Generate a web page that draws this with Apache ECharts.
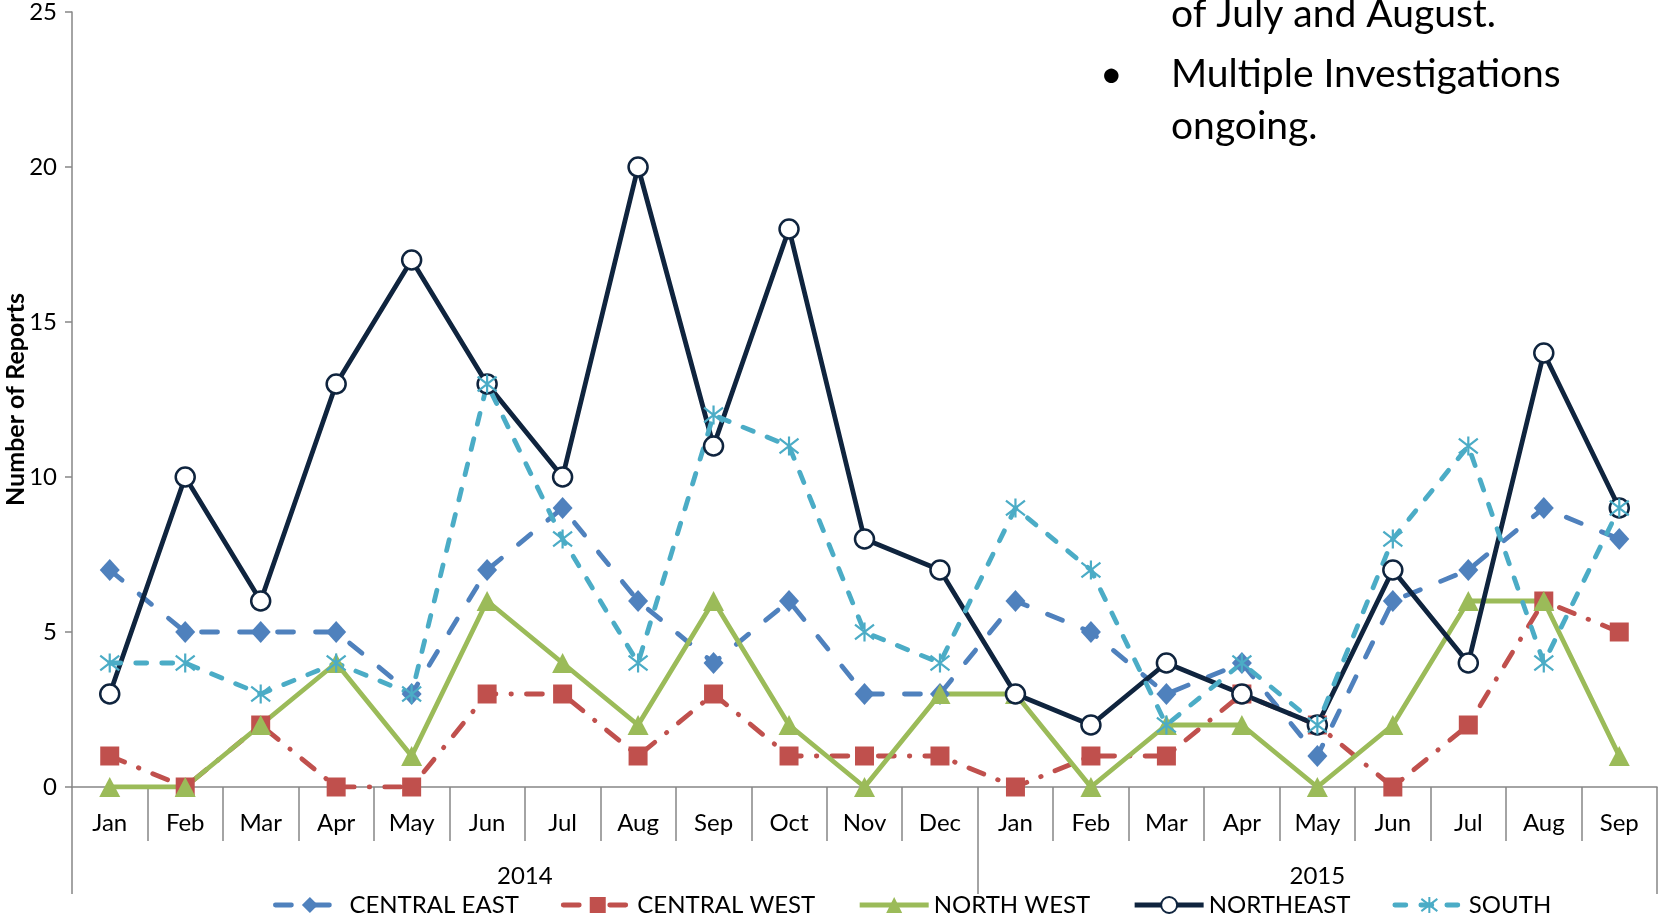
<!DOCTYPE html>
<html><head><meta charset="utf-8">
<script src="https://cdn.jsdelivr.net/npm/echarts@6/dist/echarts.min.js"></script>
<style>html,body{margin:0;padding:0;background:#fff;overflow:hidden}#c{width:1659px;height:916px}</style>
</head><body><div id="c"></div>
<script>
const months = ['Jan','Feb','Mar','Apr','May','Jun','Jul','Aug','Sep','Oct','Nov','Dec','Jan','Feb','Mar','Apr','May','Jun','Jul','Aug','Sep'];
const years = ['2014','2015'];
const yearSpans = [12, 9];
const yTicks = [0, 5, 10, 15, 20, 25];
const seriesNames = ['CENTRAL EAST','CENTRAL WEST','NORTH WEST','NORTHEAST','SOUTH'];
const centralEast = [7,5,5,5,3,7,9,6,4,6,3,3,6,5,3,4,1,6,7,9,8];
const centralWest = [1,0,2,0,0,3,3,1,3,1,1,1,0,1,1,3,2,0,2,6,5];
const northWest   = [0,0,2,4,1,6,4,2,6,2,0,3,3,0,2,2,0,2,6,6,1];
const northEast   = [3,10,6,13,17,13,10,20,11,18,8,7,3,2,4,3,2,7,4,14,9];
const south       = [4,4,3,4,3,13,8,4,12,11,5,4,9,7,2,4,2,8,11,4,9];
const noteLines = ['of July and August.', 'Multiple Investigations', 'ongoing.'];

const FONT = 'Lato';
const AXIS = '#868686';

// second-level (year) axis built on half-band steps
const nHalf = months.length * 2 + 1;
const yearAxisData = [];
const yearLabelAt = {};
const yearTickAt = new Set([nHalf - 1]);
let start = 0;
years.forEach((y, i) => {
  yearTickAt.add(start * 2);
  yearLabelAt[start * 2 + yearSpans[i]] = y;
  start += yearSpans[i];
});
for (let k = 0; k < nHalf; k++) yearAxisData.push('h' + k);

const asterisk = 'path://M0,0L10,10M10,0L0,10M5,-1.5L5,11.5';
const LW = 4.8;

const chart = echarts.init(document.getElementById('c'), null, {renderer: 'canvas'});
chart.setOption({
  animation: false,
  textStyle: {fontFamily: FONT},
  grid: {left: 72, right: 2, top: 12, bottom: 129, outerBoundsMode: 'none', containLabel: false},
  legend: {
    left: 268, top: 888,
    itemWidth: 69, itemHeight: 20, itemGap: 42,
    lineStyle: {width: LW},
    textStyle: {fontFamily: FONT, fontSize: 24, color: '#000'},
    data: seriesNames
  },
  xAxis: [{
    type: 'category', data: months, boundaryGap: true, position: 'bottom',
    axisLine: {lineStyle: {color: AXIS, width: 1.5}},
    axisTick: {show: true, interval: 0, length: 54, lineStyle: {color: AXIS, width: 1.5}},
    axisLabel: {interval: 0, margin: 24, fontSize: 24, color: '#000', fontFamily: FONT}
  }, {
    type: 'category', data: yearAxisData, boundaryGap: false, position: 'bottom',
    axisLine: {show: false},
    axisTick: {show: true, length: 107, interval: (i) => yearTickAt.has(i), lineStyle: {color: AXIS, width: 1.5}},
    axisLabel: {interval: (i) => yearLabelAt[i] !== undefined, formatter: (v, i) => yearLabelAt[i] || '',
      margin: 77, fontSize: 24, color: '#000', fontFamily: FONT}
  }],
  yAxis: {
    type: 'value', min: yTicks[0], max: yTicks[yTicks.length - 1], interval: 5,
    name: 'Number of Reports', nameLocation: 'middle', nameGap: 44, nameMoveOverlap: false,
    nameTextStyle: {fontFamily: FONT, fontSize: 25, fontWeight: 'bold', color: '#000'},
    axisLine: {show: true, lineStyle: {color: AXIS, width: 1.5}},
    axisTick: {show: true, length: 7, lineStyle: {color: AXIS, width: 1.5}},
    axisLabel: {margin: 15, fontSize: 24, color: '#000', fontFamily: FONT},
    splitLine: {show: false}
  },
  series: [{
    name: seriesNames[0], type: 'line', data: centralEast,
    symbol: 'diamond', symbolSize: [20, 22],
    itemStyle: {color: '#4F81BD'},
    lineStyle: {color: '#4F81BD', width: LW, type: [16, 22], cap: 'round'}
  }, {
    name: seriesNames[1], type: 'line', data: centralWest,
    symbol: 'rect', symbolSize: 19,
    itemStyle: {color: '#C0504D'},
    lineStyle: {color: '#C0504D', width: LW, type: [16, 15, 0.5, 15], cap: 'round'}
  }, {
    name: seriesNames[2], type: 'line', data: northWest,
    symbol: 'triangle', symbolSize: [21, 20],
    itemStyle: {color: '#9BBB59'},
    lineStyle: {color: '#9BBB59', width: LW}
  }, {
    name: seriesNames[3], type: 'line', data: northEast,
    symbol: 'circle', symbolSize: 19,
    itemStyle: {color: '#fff', borderColor: '#0F243E', borderWidth: 2.5},
    lineStyle: {color: '#0F243E', width: LW}
  }, {
    name: seriesNames[4], type: 'line', data: south,
    symbol: asterisk, symbolSize: 19,
    itemStyle: {color: 'none', borderColor: '#4BACC6', borderWidth: 2.2},
    lineStyle: {color: '#4BACC6', width: LW, type: [11, 15], cap: 'round'}
  }],
  graphic: [
    {type: 'text', left: 1171, top: -5, style: {text: noteLines[0], font: '39px Lato', fill: '#000'}},
    {type: 'text', left: 1100, top: 55, style: {text: '\u2022', font: '39px Lato', fill: '#000'}},
    {type: 'text', left: 1171, top: 55, style: {text: noteLines[1], font: '39px Lato', fill: '#000'}},
    {type: 'text', left: 1171, top: 107, style: {text: noteLines[2], font: '39px Lato', fill: '#000'}}
  ]
});
</script>
</body></html>
